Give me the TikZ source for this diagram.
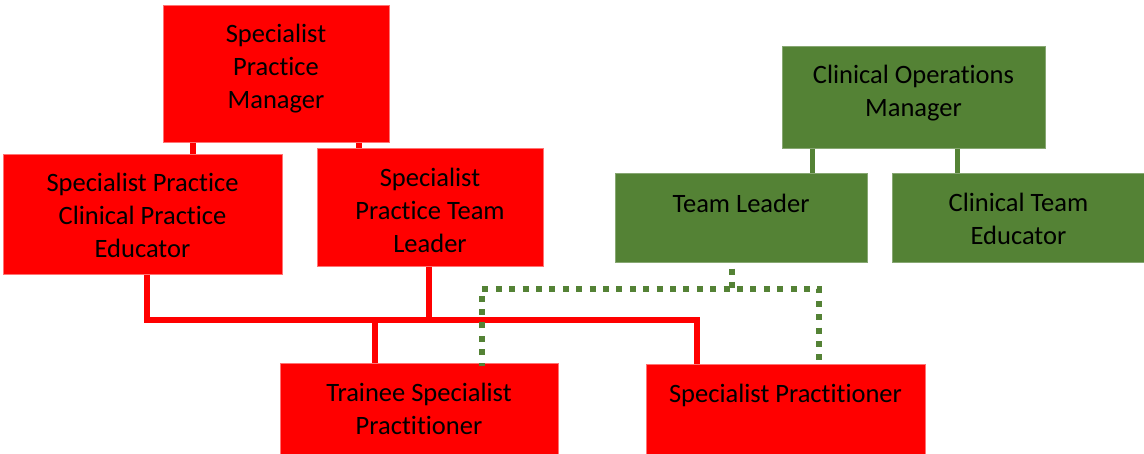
\documentclass[tikz,border=0pt]{standalone}
\usepackage{fontspec}
\setmainfont{Carlito}[Ligatures={NoCommon,NoContextual}]
\definecolor{boxred}{HTML}{FF0000}
\definecolor{boxgreen}{HTML}{548235}
\tikzset{
  redbox/.style={draw=boxred!55!white, line width=1pt, fill=boxred, inner sep=0pt},
  greenbox/.style={draw=boxgreen!70!white, line width=1pt, fill=boxgreen, inner sep=0pt},
  txt/.style={align=center, inner sep=0pt, font=\fontsize{26.5}{33}\selectfont, text=black},
  redline/.style={draw=boxred, line width=5.8pt, line join=miter},
  greenline/.style={draw=boxgreen, line width=5pt},
  dotline/.style={draw=boxgreen, line width=6pt, dash pattern=on 6pt off 7.4pt},
}
\begin{document}
\begin{tikzpicture}[x=1pt,y=-1pt]
\useasboundingbox (0,0) rectangle (1144,453);
% boxes
\node[redbox, minimum width=226pt, minimum height=137pt] (spm) at (276,73.5) {};
\node[redbox, minimum width=279pt, minimum height=120pt] (spcpe) at (142.5,214) {};
\node[redbox, minimum width=226pt, minimum height=118pt] (sptl) at (430,207) {};
\node[redbox, minimum width=278pt, minimum height=92pt] (tsp) at (419,409) {};
\node[redbox, minimum width=279pt, minimum height=91pt] (sp) at (785.5,409.5) {};
\node[greenbox, minimum width=263pt, minimum height=102pt] (com) at (913.5,97) {};
\node[greenbox, minimum width=252pt, minimum height=89pt] (tl) at (741,217.5) {};
\node[greenbox, minimum width=253pt, minimum height=89pt] (cte) at (1018.5,217.5) {};
% texts
\node[txt] (spmt) at (276,69) {Specialist\\Practice\\Manager};
\node[txt] (spcpet) at (142.5,215) {Specialist Practice\\Clinical Practice\\Educator};
\node[txt] (sptlt) at (430,210) {Specialist\\Practice Team\\Leader};
\node[txt] (tspt) at (419,409) {Trainee Specialist\\Practitioner};
\node[txt] (spt) at (785.5,395) {Specialist Practitioner};
\node[txt] (comt) at (913.5,93.5) {Clinical Operations\\Manager};
\node[txt] (tlt) at (741,203) {Team Leader};
\node[txt] (ctet) at (1018.5,219) {Clinical Team\\Educator};
% junction coordinates
\coordinate (ja) at (193,0);
\coordinate (jb) at (359,0);
\coordinate (j1) at (147,320);
\coordinate (j2) at (697,320);
\coordinate (j3) at (429,320);
\coordinate (j4) at (375,320);
\coordinate (gc1) at (812,0);
\coordinate (gc2) at (957,0);
\coordinate (d0) at (732,289);
\coordinate (dl) at (481.5,289);
\coordinate (dr) at (819,289);
% red connectors
\draw[redline] (spm.south -| ja) -- (spcpe.north -| ja);
\draw[redline] (spm.south -| jb) -- (sptl.north -| jb);
\draw[redline] (spcpe.south -| j1) -- (j1) -- (j2) -- (sp.north -| j2);
\draw[redline] (sptl.south -| j3) -- (j3);
\draw[redline] (j4) -- (tsp.north -| j4);
% green connectors
\draw[greenline] (com.south -| gc1) -- (tl.north -| gc1);
\draw[greenline] (com.south -| gc2) -- (cte.north -| gc2);
% dotted
\draw[dotline, dash phase=-6pt] (tl.south -| d0) -- (d0);
\draw[dotline, dash phase=3pt] ([yshift=-3pt]tsp.north -| dl) -- (dl) -- (dr) -- ([yshift=-2pt]sp.north -| dr);
\end{tikzpicture}
\end{document}
